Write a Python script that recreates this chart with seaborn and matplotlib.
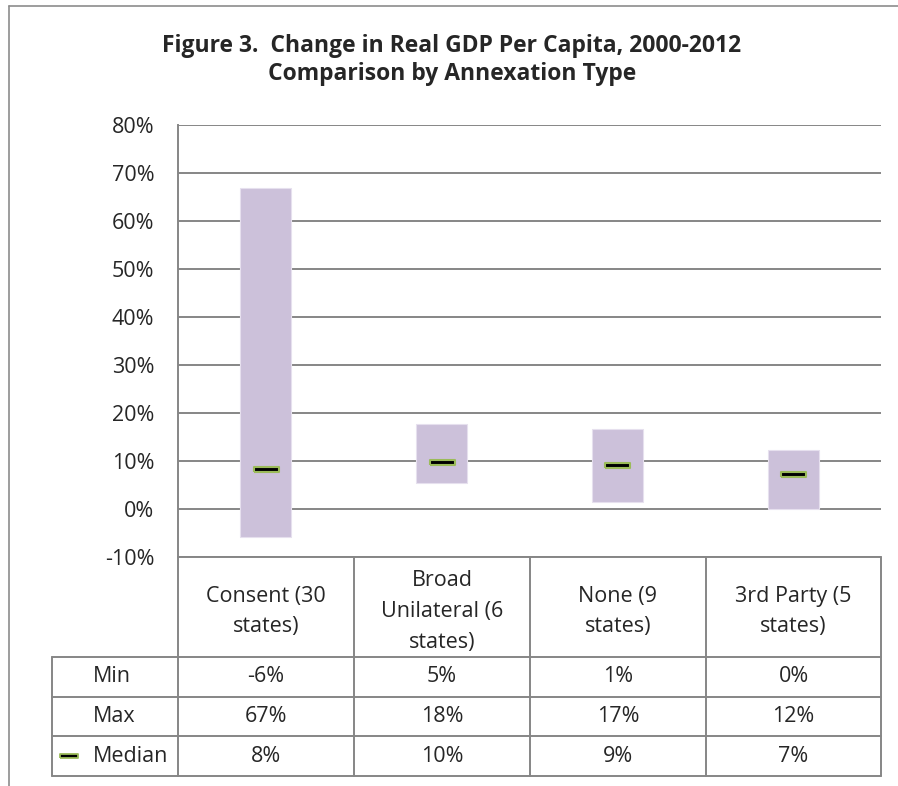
import matplotlib
matplotlib.use("Agg")
import matplotlib.pyplot as plt
from matplotlib.lines import Line2D
import numpy as np
import pandas as pd
import seaborn as sns

# ---- data (percent change in real GDP per capita, 2000-2012) ----
categories = ["Consent (30\nstates)", "Broad\nUnilateral (6\nstates)",
              "None (9\nstates)", "3rd Party (5\nstates)"]
min_vals = [-5.9, 5.4, 1.4, 0.0]
max_vals = [66.8, 17.8, 16.6, 12.2]
median_vals = [8.4, 9.7, 9.1, 7.2]
row_labels = ["Min", "Max", "Median"]
y_ticks = [-10, 0, 10, 20, 30, 40, 50, 60, 70, 80]

title_lines = ["Figure 3.  Change in Real GDP Per Capita, 2000-2012",
               "Comparison by Annexation Type"]

sns.set_style("white")
plt.rcParams["font.family"] = ["Open Sans", "DejaVu Sans"]

W, H = 898, 786
fig = plt.figure(figsize=(W / 100, H / 100), dpi=100)


def fx(x):
    return x / W


def fy(y):
    return 1 - y / H


GRID = "#868686"
TXT = "#262626"
FS = 15.5

# plot area
left, right, top, bottom = 178, 881, 125, 557
ax = fig.add_axes([fx(left), fy(bottom), fx(right - left), fy(top) - fy(bottom)])

df = pd.DataFrame({
    "category": categories,
    "low": min_vals,
    "span": np.array(max_vals) - np.array(min_vals),
    "median": median_vals,
})

# floating range bars: from min up to max
sns.barplot(data=df, x="category", y="span", bottom=df["low"].to_numpy(),
            width=0.29, color="#CCC1DA", saturation=1, errorbar=None,
            edgecolor="#E6E0EE", linewidth=0.8, ax=ax, zorder=2)

# median markers: black dash with green outline
dash = [(-1, -0.2), (1, -0.2), (1, 0.2), (-1, 0.2), (-1, -0.2)]
sns.stripplot(data=df, x="category", y="median", jitter=False, marker=dash,
              size=18, color="black", edgecolor="#9BBB59", linewidth=1.5,
              ax=ax, zorder=3)

ax.set_ylim(-10, 80)
ax.set_xlim(-0.5, 3.5)
ax.set_yticks(y_ticks)
ax.set_yticklabels([f"{v}%" for v in y_ticks], fontsize=FS, color=TXT)
ax.tick_params(axis="y", length=0, pad=17)
ax.set_xticks([])
ax.set_xlabel("")
ax.set_ylabel("")
ax.yaxis.grid(True, color=GRID, linewidth=1.4)
ax.set_axisbelow(True)
for s in ["top", "right", "bottom"]:
    ax.spines[s].set_visible(False)
ax.spines["left"].set_color(GRID)
ax.spines["left"].set_linewidth(1.4)

# title (two centred lines)
for line, base in zip(title_lines, [52, 80]):
    fig.text(fx(452), fy(base), line, ha="center", va="baseline", fontsize=16.5,
             fontweight="bold", color=TXT)

# outer chart border (left and top)
for xs, ys in [([9, 9], [6, H]), ([9, W], [6, 6])]:
    fig.add_artist(Line2D([fx(v) for v in xs], [fy(v) for v in ys],
                          color="#8C8C8C", linewidth=1.2))

# ---- data table below the plot ----
col_edges = [178, 354, 530, 706, 881]
header_top, header_bot = 557, 657
row_edges = [657, 697, 736, 776]
table_left = 52


def hline(x0, x1, y):
    fig.add_artist(Line2D([fx(x0), fx(x1)], [fy(y), fy(y)], color=GRID, linewidth=1.4))


def vline(x, y0, y1):
    fig.add_artist(Line2D([fx(x), fx(x)], [fy(y0), fy(y1)], color=GRID, linewidth=1.4))


hline(col_edges[0], col_edges[-1], header_top)
for y in row_edges:
    hline(table_left, col_edges[-1], y)
for x in col_edges:
    vline(x, header_top, row_edges[-1])
vline(table_left, row_edges[0], row_edges[-1])

for i, cat in enumerate(categories):
    cx = (col_edges[i] + col_edges[i + 1]) / 2
    fig.text(fx(cx), fy((header_top + header_bot) / 2 + 4.5), cat, ha="center",
             va="center", fontsize=FS, color=TXT, linespacing=1.62)

row_values = [min_vals, max_vals, median_vals]
for r, (label, vals) in enumerate(zip(row_labels, row_values)):
    cy = (row_edges[r] + row_edges[r + 1]) / 2
    fig.text(fx(93), fy(cy), label, ha="left", va="center", fontsize=FS, color=TXT)
    for i, v in enumerate(vals):
        cx = (col_edges[i] + col_edges[i + 1]) / 2
        fig.text(fx(cx), fy(cy), f"{round(v):.0f}%", ha="center", va="center",
                 fontsize=FS, color=TXT)

# legend key for the median series
fig.add_artist(Line2D([fx(68.5)], [fy(756)], marker=dash, markersize=13,
                      markerfacecolor="black", markeredgecolor="#9BBB59",
                      markeredgewidth=1.3, linestyle="none"))

fig.savefig("out.png", dpi=100)
